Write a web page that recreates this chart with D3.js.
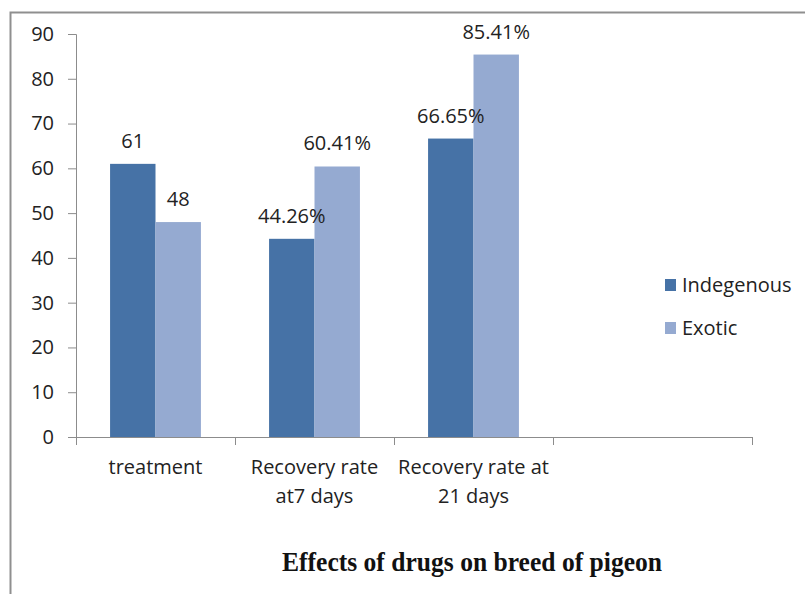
<!DOCTYPE html>
<html>
<head>
<meta charset="utf-8">
<script src="https://cdn.jsdelivr.net/npm/d3@7"></script>
<style>
  body { margin: 0; background: #fff; }
  svg { display: block; font-family: "Open Sans", sans-serif; }
</style>
</head>
<body>
<svg id="chart" width="805" height="594"></svg>
<script>
// data
const categories = [["treatment"], ["Recovery rate", "at7 days"], ["Recovery rate at", "21 days"], [""]];
const seriesNames = ["Indegenous", "Exotic"];
const indigenous = [61, 44.26, 66.65];
const exotic = [48, 60.41, 85.41];
const labelSuffix = ["", "%", "%"];
const yTicks = [0, 10, 20, 30, 40, 50, 60, 70, 80, 90];
const titleText = "Effects of drugs on breed of pigeon";

const colors = ["#4672a6", "#95aad1"];

class GroupedBar {
  constructor(domId) {
    this._svg = d3.select(domId);
    this._left = 76;
    this._right = 752;
    this._top = 34;
    this._bottom = 437;
  }
  render() {
    this.renderFrame();
    this.renderScale();
    this.renderAxes();
    this.renderBars();
    this.renderLegend();
    this.renderTitle();
  }
  renderFrame() {
    this._svg.append("rect")
      .attr("x", 10.5).attr("y", 12.5)
      .attr("width", 820).attr("height", 620)
      .attr("fill", "none")
      .attr("stroke", "#8f8f8f")
      .attr("stroke-width", 2);
  }
  renderScale() {
    this.x0 = d3.scaleBand()
      .domain(d3.range(categories.length))
      .range([this._left, this._left + 159 * categories.length])
      .padding(0);
    this.x1 = d3.scaleBand()
      .domain(seriesNames)
      .range([0, this.x0.bandwidth()])
      .paddingInner(0)
      .paddingOuter(0.75);
    this.y = d3.scaleLinear().domain([0, 90]).range([this._bottom, this._top]);
    this.color = d3.scaleOrdinal().domain(seriesNames).range(colors);
  }
  renderAxes() {
    const axisColor = "#8c8c8c";
    const yAxis = this._svg.append("g")
      .attr("transform", `translate(${this._left},0)`)
      .call(d3.axisLeft(this.y).tickValues(yTicks).tickSize(8).tickPadding(14));
    yAxis.select(".domain").attr("stroke", axisColor).attr("d", `M-8,${this._top + 0.5}H0.5V${this._bottom}`);
    yAxis.selectAll(".tick line").attr("stroke", axisColor);
    yAxis.selectAll(".tick text")
      .attr("fill", "#222")
      .style("font-size", "20px")
      .style("font-family", "'Open Sans', sans-serif");

    // category axis
    const xAxis = this._svg.append("g");
    xAxis.append("line")
      .attr("x1", this._left).attr("x2", this._right)
      .attr("y1", this._bottom + 0.5).attr("y2", this._bottom + 0.5)
      .attr("stroke", axisColor);
    const tickPos = d3.range(categories.length).map(i => this.x0(i)).concat([this._right]);
    xAxis.selectAll("line.xtick")
      .data(tickPos)
      .join("line")
      .attr("class", "xtick")
      .attr("x1", d => d + 0.5).attr("x2", d => d + 0.5)
      .attr("y1", this._bottom).attr("y2", this._bottom + 8)
      .attr("stroke", axisColor);
    const labels = xAxis.selectAll("text.xlab")
      .data(categories)
      .join("text")
      .attr("class", "xlab")
      .attr("text-anchor", "middle")
      .attr("fill", "#222")
      .style("font-size", "20px")
      .attr("transform", (d, i) => `translate(${this.x0(i) + this.x0.bandwidth() / 2},${this._bottom + 37})`);
    labels.selectAll("tspan")
      .data(d => d)
      .join("tspan")
      .attr("x", 0)
      .attr("dy", (d, i) => i === 0 ? 0 : 29)
      .text(d => d);
  }
  renderBars() {
    const rows = d3.range(indigenous.length).map(i => ({
      idx: i,
      values: [
        { key: seriesNames[0], value: indigenous[i] },
        { key: seriesNames[1], value: exotic[i] }
      ]
    }));
    const groups = this._svg.append("g")
      .selectAll("g")
      .data(rows)
      .join("g")
      .attr("transform", d => `translate(${this.x0(d.idx)},0)`);
    groups.selectAll("rect")
      .data(d => d.values)
      .join("rect")
      .attr("x", d => this.x1(d.key))
      .attr("y", d => this.y(d.value))
      .attr("width", this.x1.bandwidth())
      .attr("height", d => this.y(0) - this.y(d.value))
      .attr("fill", d => this.color(d.key));
    // value labels
    groups.selectAll("text")
      .data(d => d.values.map(v => ({ ...v, idx: d.idx })))
      .join("text")
      .attr("x", d => this.x1(d.key) + this.x1.bandwidth() / 2)
      .attr("y", d => this.y(d.value) - 16)
      .attr("text-anchor", "middle")
      .attr("fill", "#222")
      .style("font-size", "20px")
      .text(d => d.value + labelSuffix[d.idx]);
  }
  renderLegend() {
    const legend = this._svg.append("g")
      .selectAll("g")
      .data(seriesNames)
      .join("g")
      .attr("transform", (d, i) => `translate(665,${285 + i * 43})`);
    legend.append("rect")
      .attr("x", 0).attr("y", -6)
      .attr("width", 11).attr("height", 12)
      .attr("fill", d => this.color(d));
    legend.append("text")
      .attr("x", 17).attr("y", 7)
      .attr("fill", "#222")
      .style("font-size", "20px")
      .text(d => d);
  }
  renderTitle() {
    this._svg.append("text")
      .attr("x", 472).attr("y", 571)
      .attr("text-anchor", "middle")
      .attr("fill", "#111")
      .attr("textLength", 380)
      .attr("lengthAdjust", "spacingAndGlyphs")
      .style("font-family", "'Liberation Serif', 'Times New Roman', serif")
      .style("font-weight", "bold")
      .style("font-size", "27px")
      .text(titleText);
  }
}

new GroupedBar("#chart").render();
</script>
</body>
</html>
